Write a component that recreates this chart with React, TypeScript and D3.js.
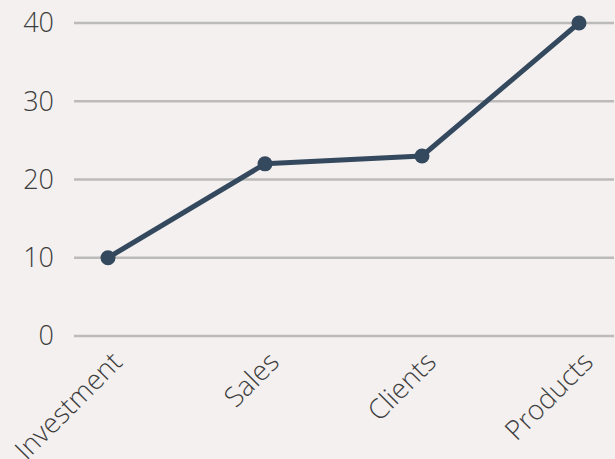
import React from "react";
import * as d3 from "d3";

const categories = ["Investment", "Sales", "Clients", "Products"];
const values = [10, 22, 23, 40];
const yTicks = [0, 10, 20, 30, 40];

const W = 615;
const H = 459;

export default function App() {
  const x = d3.scalePoint<string>().domain(categories).range([108, 579]);
  const y = d3.scaleLinear().domain([0, 40]).range([336, 23]);
  const line = d3
    .line<number>()
    .x((_, i) => x(categories[i]) as number)
    .y((d) => y(d));
  const font = "'Open Sans', sans-serif";
  return (
    <svg
      width={W}
      height={H}
      style={{ position: "absolute", left: 0, top: 0, background: "#f3f0ef" }}
    >
      <rect width={W} height={H} fill="#f3f0ef" />
      {yTicks.map((t) => (
        <g key={t}>
          <line x1={74} x2={614} y1={y(t)} y2={y(t)} stroke="#bdbbb9" strokeWidth={2.5} />
          <text
            x={54}
            y={y(t)}
            dy="0.35em"
            textAnchor="end"
            fontFamily={font}
            fontWeight={300}
            fontSize={27}
            fill="#3e3e3e"
          >
            {t}
          </text>
        </g>
      ))}
      <path d={line(values) || ""} fill="none" stroke="#34495e" strokeWidth={5} strokeLinejoin="round" />
      {values.map((v, i) => (
        <circle key={i} cx={x(categories[i])} cy={y(v)} r={7.5} fill="#34495e" />
      ))}
      {categories.map((c) => (
        <text
          key={c}
          transform={`translate(${(x(c) as number) + 9},${357}) rotate(-45)`}
          textAnchor="end"
          dy="0.35em"
          fontFamily={font}
          fontWeight={300}
          fontSize={27.5}
          fill="#3e3e3e"
        >
          {c}
        </text>
      ))}
    </svg>
  );
}
